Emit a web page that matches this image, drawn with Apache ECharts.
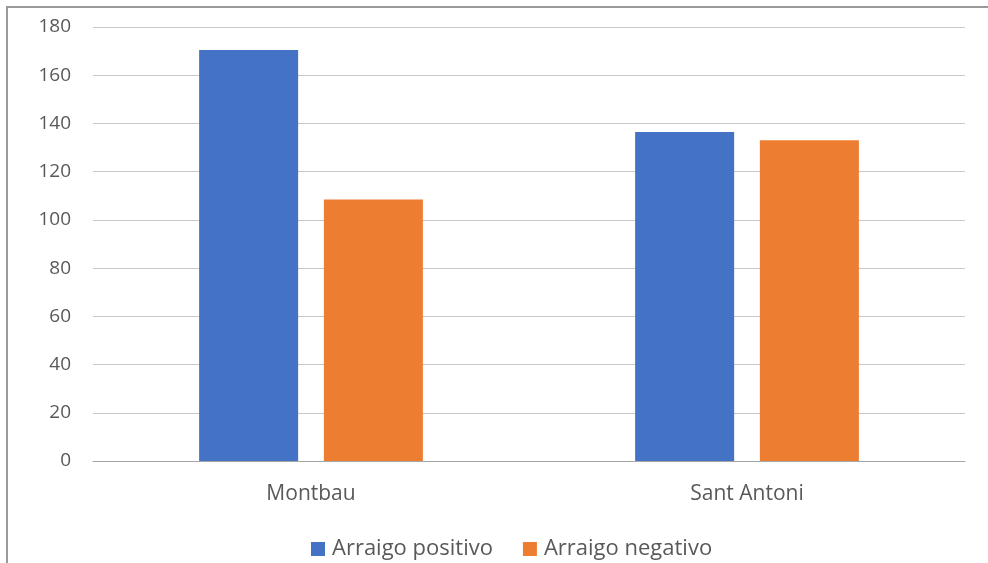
<!DOCTYPE html>
<html><head><meta charset="utf-8">
<script src="https://cdn.jsdelivr.net/npm/echarts@6/dist/echarts.min.js"></script>
<style>html,body{margin:0;padding:0;background:#fff}#c{width:988px;height:563px}</style>
</head><body><div id="c"></div>
<script>
const categories = ['Montbau', 'Sant Antoni'];
const seriesNames = ['Arraigo positivo', 'Arraigo negativo'];
const positivo = [170.5, 136.5];
const negativo = [108.5, 133];
const colors = ['#4472C4', '#ED7D31'];
const chart = echarts.init(document.getElementById('c'));
const font = '"Open Sans", "Noto Sans", sans-serif';
chart.setOption({
  animation: false,
  textStyle: { fontFamily: font },
  graphic: [{ type: 'rect', shape: { x: 7, y: 7, width: 1000, height: 600 }, style: { fill: 'none', stroke: '#9a9a9a', lineWidth: 2 }, silent: true }],
  grid: { left: 93, right: 23, top: 27, bottom: 102 },
  legend: {
    top: 533, left: 306, itemWidth: 14, itemHeight: 14, itemGap: 30, icon: 'rect',
    textStyle: { fontSize: 22, color: '#595959', fontFamily: font, padding: [0, 0, 0, 2] }
  },
  xAxis: {
    type: 'category', data: categories,
    axisLine: { lineStyle: { color: '#a6a6a6', width: 1 } },
    axisTick: { show: false },
    axisLabel: { fontSize: 21, color: '#595959', margin: 23, fontFamily: font }
  },
  yAxis: {
    type: 'value', min: 0, max: 180, interval: 20,
    axisLine: { show: false }, axisTick: { show: false },
    splitLine: { lineStyle: { color: '#c8c8c8', width: 1 } },
    axisLabel: { fontSize: 19, color: '#595959', margin: 22, fontFamily: font }
  },
  series: [
    { name: seriesNames[0], type: 'bar', data: positivo, barWidth: 99, barGap: '26%', itemStyle: { color: colors[0] } },
    { name: seriesNames[1], type: 'bar', data: negativo, barWidth: 99, itemStyle: { color: colors[1] } }
  ]
});
</script></body></html>
